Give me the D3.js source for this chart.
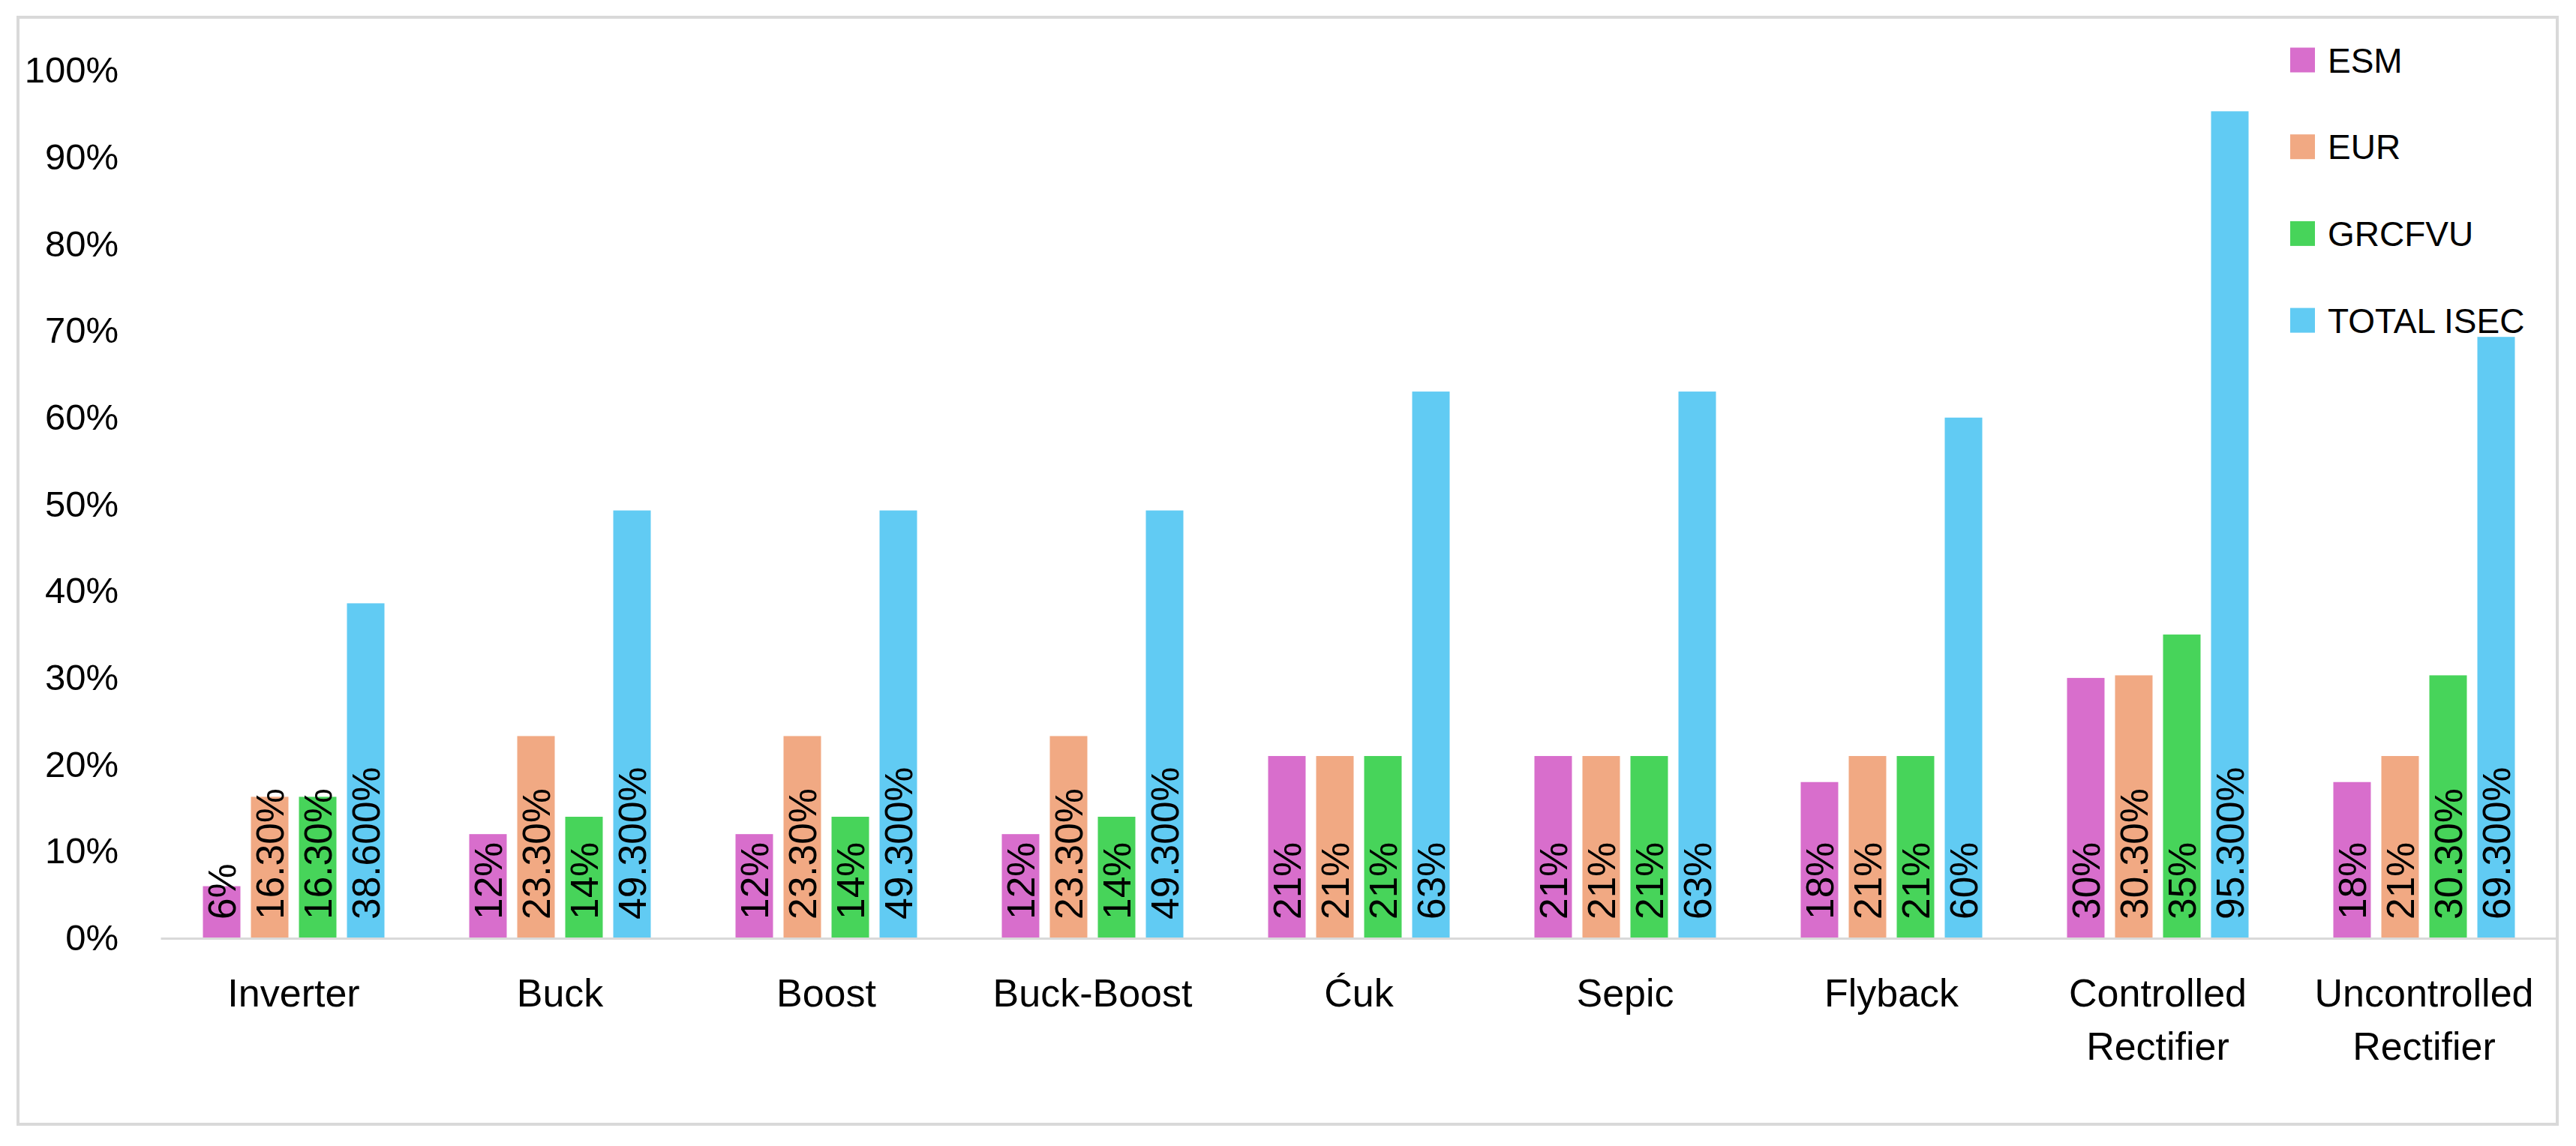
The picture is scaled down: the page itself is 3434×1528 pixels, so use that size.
<!DOCTYPE html>
<html>
<head>
<meta charset="utf-8">
<script src="https://cdn.jsdelivr.net/npm/d3@7"></script>
<style>
  html, body { margin: 0; padding: 0; background: #ffffff; }
  svg { display: block; }
  text { font-family: "Liberation Sans", Arial, sans-serif; fill: #000; }
</style>
</head>
<body>
<svg id="chart" width="3434" height="1528"></svg>
<script>
// ---- data ----
const categories = ["Inverter", "Buck", "Boost", "Buck-Boost", "Ćuk", "Sepic", "Flyback", "Controlled Rectifier", "Uncontrolled Rectifier"];
const seriesNames = ["ESM", "EUR", "GRCFVU", "TOTAL ISEC"];
const seriesColors = ["#D86ECC", "#F1A983", "#47D45A", "#61CBF3"];
const esm    = [0.06, 0.12, 0.12, 0.12, 0.21, 0.21, 0.18, 0.30, 0.18];
const eur    = [0.163, 0.233, 0.233, 0.233, 0.21, 0.21, 0.21, 0.303, 0.21];
const grcfvu = [0.163, 0.14, 0.14, 0.14, 0.21, 0.21, 0.21, 0.35, 0.303];
const total  = [0.386, 0.493, 0.493, 0.493, 0.63, 0.63, 0.60, 0.953, 0.693];
const esmLabels    = ["6%", "12%", "12%", "12%", "21%", "21%", "18%", "30%", "18%"];
const eurLabels    = ["16.30%", "23.30%", "23.30%", "23.30%", "21%", "21%", "21%", "30.30%", "21%"];
const grcfvuLabels = ["16.30%", "14%", "14%", "14%", "21%", "21%", "21%", "35%", "30.30%"];
const totalLabels  = ["38.600%", "49.300%", "49.300%", "49.300%", "63%", "63%", "60%", "95.300%", "69.300%"];
const yTicks = [0, 0.1, 0.2, 0.3, 0.4, 0.5, 0.6, 0.7, 0.8, 0.9, 1.0];

const seriesValues = [esm, eur, grcfvu, total];
const seriesLabels = [esmLabels, eurLabels, grcfvuLabels, totalLabels];

// ---- layout ----
const svg = d3.select("#chart");

svg.append("rect")
  .attr("x", 24).attr("y", 23)
  .attr("width", 3385).attr("height", 1476)
  .attr("fill", "#ffffff")
  .attr("stroke", "#D9D9D9")
  .attr("stroke-width", 4);

const x0 = d3.scaleBand().domain(categories).range([214, 3409]).paddingInner(0).paddingOuter(0);
const x1 = d3.scaleBand().domain(seriesNames).range([56.5, 298.5]).paddingInner(0.219).paddingOuter(0);
const y = d3.scaleLinear().domain([0, 1]).range([1251, 94]);

// y axis
const yAxis = svg.append("g")
  .attr("transform", "translate(166,0)")
  .call(d3.axisLeft(y).tickValues(yTicks).tickFormat(d3.format(".0%")).tickSize(0).tickPadding(8));
yAxis.select(".domain").remove();
yAxis.selectAll("text")
  .style("font-family", "'Liberation Sans', Arial, sans-serif")
  .style("font-size", "49px")
  .attr("fill", "#000");

// bars
const rows = [];
categories.forEach((c, i) => {
  seriesNames.forEach((s, j) => {
    rows.push({ cat: c, series: s, value: seriesValues[j][i], label: seriesLabels[j][i], color: seriesColors[j] });
  });
});

const gBars = svg.append("g");
gBars.selectAll("rect")
  .data(rows)
  .join("rect")
  .attr("x", d => x0(d.cat) + x1(d.series))
  .attr("y", d => y(d.value))
  .attr("width", x1.bandwidth())
  .attr("height", d => y(0) - y(d.value))
  .attr("fill", d => d.color);

// x axis
const xAxis = svg.append("g")
  .attr("transform", `translate(0,${y(0)})`)
  .call(d3.axisBottom(x0).tickSize(0).tickSizeOuter(0).tickPadding(0));
xAxis.select(".domain")
  .attr("stroke", "#D9D9D9")
  .attr("stroke-width", 3);
xAxis.selectAll(".tick text").each(function(d) {
  const t = d3.select(this);
  const lines = d.split(" ");
  t.text(null)
    .attr("y", 0)
    .attr("dy", null)
    .style("font-family", "'Liberation Sans', Arial, sans-serif")
    .style("font-size", "52px")
    .attr("fill", "#000");
  lines.forEach((ln, k) => {
    t.append("tspan").attr("x", 0).attr("y", 91 + k * 71).text(ln);
  });
});

// data labels
const gLabels = svg.append("g");
gLabels.selectAll("text")
  .data(rows)
  .join("text")
  .attr("transform", d => `translate(${x0(d.cat) + x1(d.series) + x1.bandwidth() / 2},${y(0) - 25}) rotate(-90)`)
  .attr("text-anchor", "start")
  .attr("dy", "0.36em")
  .style("font-size", "51.5px")
  .text(d => d.label);

// legend
const legend = svg.append("g").attr("transform", "translate(3053,80)");
const items = legend.selectAll("g")
  .data(seriesNames)
  .join("g")
  .attr("transform", (d, i) => `translate(0,${i * 115.7})`);
items.append("rect")
  .attr("x", 0).attr("y", -16.5)
  .attr("width", 33).attr("height", 33)
  .attr("fill", (d, i) => seriesColors[i]);
items.append("text")
  .attr("x", 50).attr("y", 0)
  .attr("dy", "0.36em")
  .style("font-size", "46px")
  .text(d => d);
</script>
</body>
</html>
